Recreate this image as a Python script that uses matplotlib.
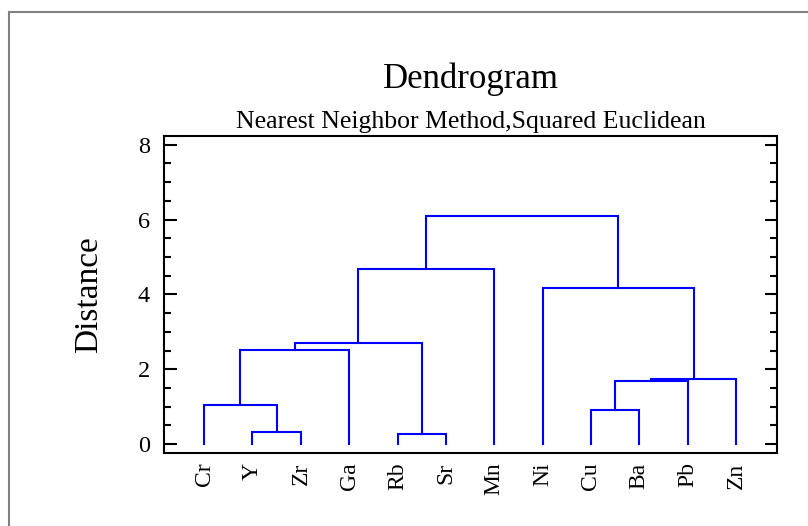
import matplotlib
matplotlib.use("Agg")
import matplotlib.pyplot as plt
from matplotlib.patches import Rectangle
from matplotlib.ticker import MultipleLocator

# === Dendrogram data ===
labels = ["Cr", "Y", "Zr", "Ga", "Rb", "Sr", "Mn", "Ni", "Cu", "Ba", "Pb", "Zn"]
# each merge: (left node, right node, distance); new nodes numbered from 12 on
merge_left = [1, 0, 13, 4, 14, 16, 8, 18, 19, 7, 17]
merge_right = [2, 12, 3, 5, 15, 6, 9, 10, 11, 20, 21]
merge_height = [0.32, 1.05, 2.52, 0.28, 2.71, 4.68, 0.90, 1.68, 1.73, 4.17, 6.10]

plt.rcParams["font.family"] = ["Liberation Serif", "DejaVu Serif"]

fig = plt.figure(figsize=(8.08, 5.26), dpi=100)
ax = fig.add_axes([164 / 808, 1 - 452.7 / 526, 613 / 808, 316.7 / 526])

# node positions
xpos = {i: i + 1 for i in range(len(labels))}
ypos = {i: 0.0 for i in range(len(labels))}
for k, (a, b, h) in enumerate(zip(merge_left, merge_right, merge_height)):
    node = len(labels) + k
    xa, xb = xpos[a], xpos[b]
    ax.plot([xa, xa, xb, xb], [ypos[a], h, h, ypos[b]],
            color="#0000ff", lw=1.5, solid_joinstyle="miter")
    xpos[node] = (xa + xb) / 2
    ypos[node] = h

ax.set_xlim(0.17, 12.85)
ax.set_ylim(-0.23, 8.235)
ax.set_xticks(range(1, len(labels) + 1))
ax.set_xticklabels(labels, rotation=90, fontsize=17)
ax.tick_params(axis="x", length=0, pad=7)
ax.yaxis.set_major_locator(MultipleLocator(2))
ax.yaxis.set_minor_locator(MultipleLocator(0.5))
ax.tick_params(axis="y", which="both", direction="in", right=True, width=1.5,
               labelsize=17.5, pad=10)
ax.tick_params(axis="y", which="major", length=9)
ax.tick_params(axis="y", which="minor", length=5)
for s in ax.spines.values():
    s.set_linewidth(1.5)

ax.set_ylabel("Distance", fontsize=24, labelpad=24)

cx = (164 + 777) / 2 / 808
fig.text(cx, 1 - 88 / 526, "Dendrogram", fontsize=25, ha="center", va="baseline")
fig.text(cx, 1 - 128 / 526, "Nearest Neighbor Method,Squared Euclidean",
         fontsize=18.5, ha="center", va="baseline")

# outer gray frame (runs off the right and bottom edges)
fig.patches.append(Rectangle((9 / 808, -0.1), 1.2, 1 - 12 / 526 + 0.1,
                             transform=fig.transFigure, fill=False,
                             edgecolor="#808080", lw=1.5))

fig.savefig("out.png", dpi=100)
